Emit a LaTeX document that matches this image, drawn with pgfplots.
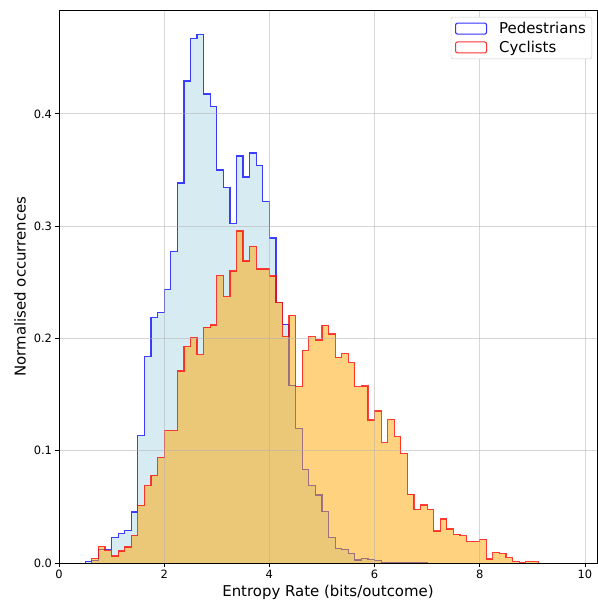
\documentclass[border=0pt]{standalone}
\usepackage{fontspec}
\setmainfont{DejaVu Sans}
\usepackage{pgfplots}
\usepackage{pgfplotstable}
\pgfplotsset{compat=1.18}
\definecolor{histblue}{RGB}{173,216,230}
\definecolor{historange}{RGB}{255,165,0}
\definecolor{gridgrey}{RGB}{176,176,176}

% left bin edge, normalised count (bin width 0.125)
\pgfplotstableread{
x y
0.5 0
0.5 0.001
0.625 0.002
0.75 0.0118
0.875 0.0118
1.0 0.0228
1.125 0.026
1.25 0.029
1.375 0.0455
1.5 0.1134
1.625 0.1839
1.75 0.2186
1.875 0.223
2.0 0.2435
2.125 0.2773
2.25 0.3385
2.375 0.4292
2.5 0.467
2.625 0.4705
2.75 0.4177
2.875 0.4068
3.0 0.350
3.125 0.3345
3.25 0.3022
3.375 0.3624
3.5 0.3438
3.625 0.3652
3.75 0.3543
3.875 0.322
4.0 0.2894
4.125 0.2323
4.25 0.2127
4.375 0.1584
4.5 0.1196
4.625 0.0834
4.75 0.0692
4.875 0.0606
5.0 0.0457
5.125 0.0226
5.25 0.0131
5.375 0.0122
5.5 0.0086
5.625 0.0027
5.75 0.0042
5.875 0.0033
6.0 0.002
6.125 0.0005
6.25 0.0005
6.375 0.0005
6.5 0.0005
6.625 0.0005
6.75 0.0005
6.875 0.0005
7.0 0
}\pedestrians

\pgfplotstableread{
x y
0.625 0
0.625 0.004
0.75 0.0149
0.875 0.011
1.0 0.0062
1.125 0.0107
1.25 0.0143
1.375 0.0247
1.5 0.0515
1.625 0.0688
1.75 0.078
1.875 0.094
2.0 0.118
2.125 0.118
2.25 0.171
2.375 0.193
2.5 0.2005
2.625 0.1854
2.75 0.210
2.875 0.212
3.0 0.256
3.125 0.237
3.25 0.260
3.375 0.2957
3.5 0.269
3.625 0.282
3.75 0.2618
3.875 0.2618
4.0 0.2556
4.125 0.2323
4.25 0.2019
4.375 0.2205
4.5 0.157
4.625 0.189
4.75 0.2015
4.875 0.1986
5.0 0.2117
5.125 0.2039
5.25 0.1832
5.375 0.1867
5.5 0.1784
5.625 0.157
5.75 0.1576
5.875 0.1273
6.0 0.1353
6.125 0.107
6.25 0.128
6.375 0.1125
6.5 0.0974
6.625 0.0613
6.75 0.0478
6.875 0.0516
7.0 0.0478
7.125 0.0285
7.25 0.0392
7.375 0.0303
7.5 0.0255
7.625 0.0243
7.75 0.019
7.875 0.019
8.0 0.0211
8.125 0.0036
8.25 0.0092
8.375 0.0083
8.5 0.0047
8.625 0.001
8.75 0.0
8.875 0.001
9.0 0.001
9.125 0
}\cyclists

\begin{document}
\begin{tikzpicture}
\useasboundingbox (-59bp,-41bp) rectangle (539bp,563bp);
\begin{axis}[
  at={(0,0)}, anchor=south west,
  scale only axis, width=538bp, height=553bp,
  xmin=0, xmax=10.23, ymin=0, ymax=0.4925,
  xtick={0,2,4,6,8,10}, ytick={0,0.1,0.2,0.3,0.4},
  yticklabel style={/pgf/number format/.cd, fixed, fixed zerofill, precision=1},
  /pgf/number format/assume math mode=true,
  tick label style={font=\fontsize{11.5}{13}\selectfont},
  tick align=outside, tick pos=left, major tick length=3.5bp,
  every tick/.style={black, line width=0.8bp},
  axis line style={line width=0.8bp},
  grid=major, grid style={draw=gridgrey, draw opacity=0.5, line width=0.8bp},
  axis on top,
  xlabel={Entropy Rate (bits/outcome)},
  ylabel={Normalised occurrences},
  every axis x label/.style={at={(axis description cs:0.5,0)}, anchor=center,
    yshift=-29bp, font=\fontsize{15}{18}\selectfont},
  every axis y label/.style={at={(axis description cs:0,0.5)}, anchor=center,
    rotate=90, yshift=39bp, font=\fontsize{15}{18}\selectfont},
  legend style={at={(1,1)}, anchor=north east, xshift=-5bp, yshift=-7bp,
    draw=black!20, rounded corners=2bp, font=\fontsize{15}{18}\selectfont,
    row sep=2bp, inner xsep=4bp, inner ysep=3bp,
    /tikz/every odd column/.append style={column sep=10bp}},
  legend cell align=left,
]
\addplot[const plot, forget plot, draw=none, fill=histblue, fill opacity=0.5]
  table {\pedestrians} \closedcycle;
\addplot[const plot, forget plot, draw=blue, draw opacity=0.75, line width=1.2bp]
  table {\pedestrians};
\addplot[const plot, forget plot, draw=none, fill=historange, fill opacity=0.5]
  table {\cyclists} \closedcycle;
\addplot[const plot, forget plot, draw=red, draw opacity=0.75, line width=1.2bp]
  table {\cyclists};
\addlegendimage{legend image code/.code={\draw[blue, draw opacity=0.8, line width=1.1bp] (0bp,-5.5bp) rectangle (31bp,5.5bp);}}
\addlegendentry{Pedestrians}
\addlegendimage{legend image code/.code={\draw[red, draw opacity=0.8, line width=1.1bp] (0bp,-5.5bp) rectangle (31bp,5.5bp);}}
\addlegendentry{Cyclists}
\end{axis}
\end{tikzpicture}
\end{document}
